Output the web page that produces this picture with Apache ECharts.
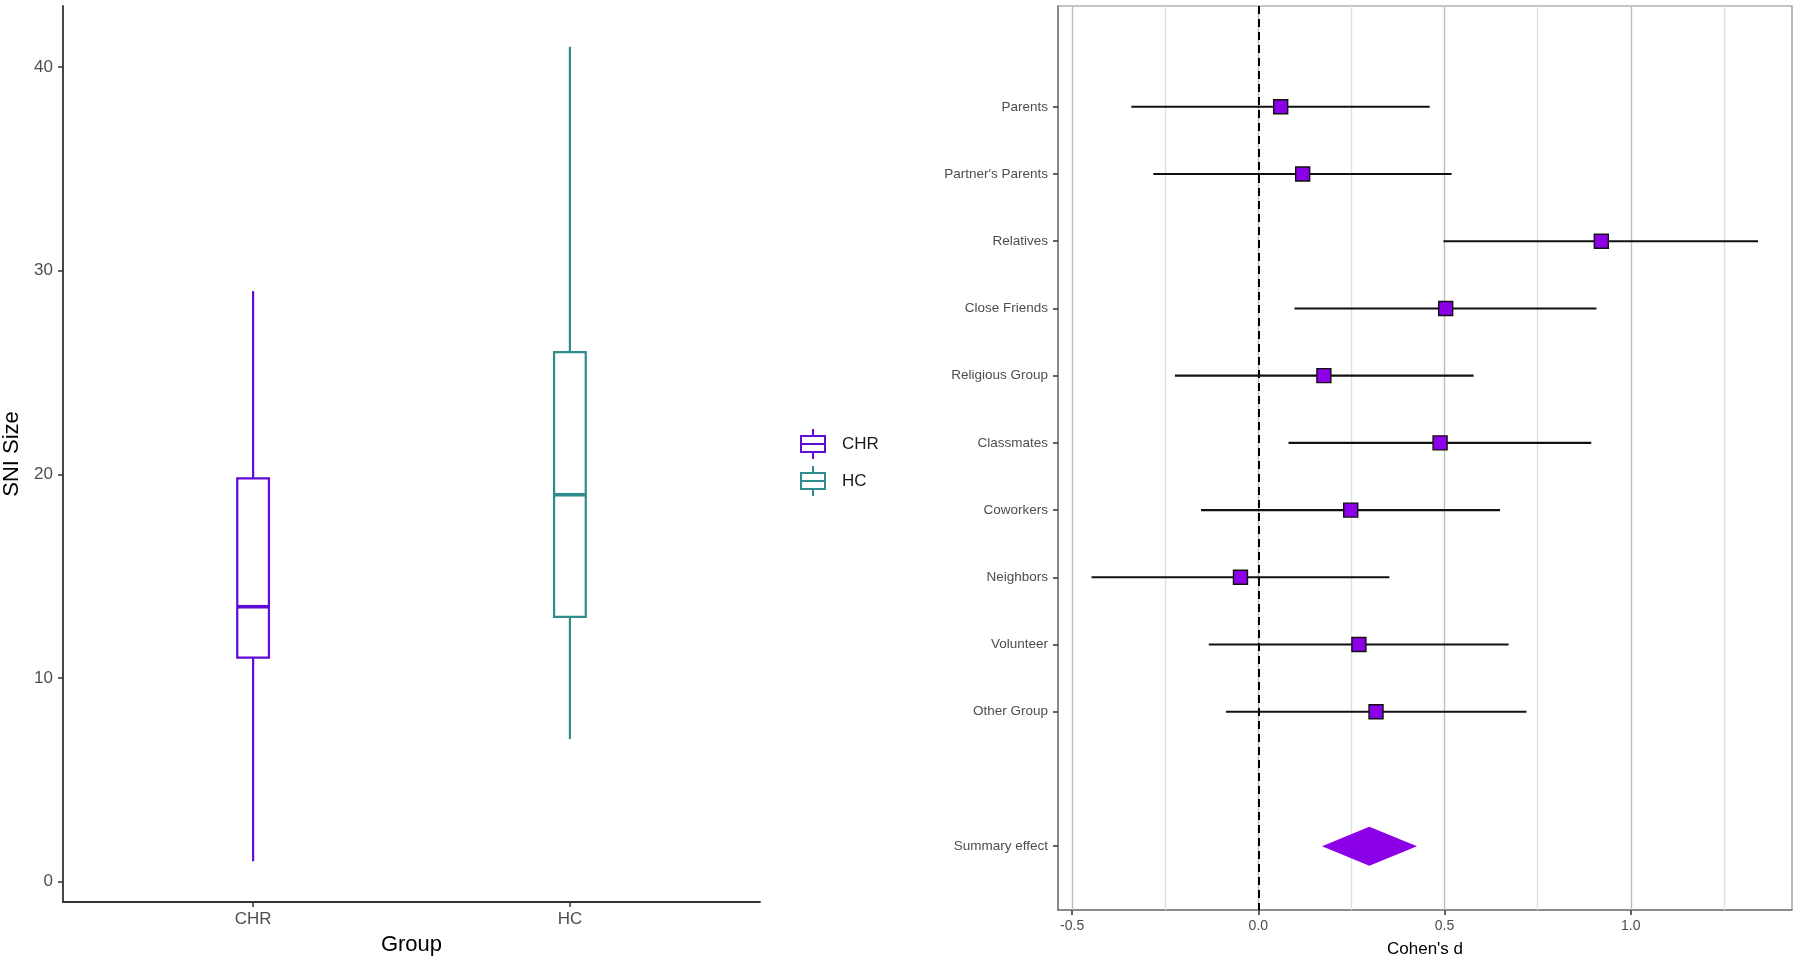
<!DOCTYPE html>
<html>
<head>
<meta charset="utf-8">
<script src="https://cdn.jsdelivr.net/npm/echarts@6/dist/echarts.min.js"></script>
<style>html,body{margin:0;padding:0;background:#fff;}#chart{width:1800px;height:964px;}</style>
</head>
<body>
<div id="chart"></div>
<script>
// ---------- Left panel: box plot data ----------
const groups = ['CHR', 'HC'];
// [min, Q1, median, Q3, max]
const chrBox = [1, 11, 13.5, 19.8, 29];
const hcBox = [7, 13, 19, 26, 41];
const leftYTicks = [0, 10, 20, 30, 40];
const groupColors = ['#5E0BD6', '#2E8C8C'];

// ---------- Right panel: forest plot data ----------
const studies = ['Parents', "Partner's Parents", 'Relatives', 'Close Friends', 'Religious Group',
  'Classmates', 'Coworkers', 'Neighbors', 'Volunteer', 'Other Group'];
const estimate = [0.060, 0.119, 0.921, 0.503, 0.176, 0.488, 0.248, -0.048, 0.270, 0.316];
const lower = [-0.341, -0.282, 0.497, 0.097, -0.224, 0.081, -0.154, -0.448, -0.133, -0.087];
const upper = [0.460, 0.519, 1.342, 0.908, 0.578, 0.894, 0.649, 0.352, 0.672, 0.720];
const summaryLabel = 'Summary effect';
const summaryEffect = [0.171, 0.298, 0.426]; // [lower, estimate, upper]
const xMajorTicks = [-0.5, 0, 0.5, 1.0];
const xMajorLabels = ['-0.5', '0.0', '0.5', '1.0'];
const xMinorGrid = [-0.25, 0.25, 0.75, 1.25];

const FONT = '"Liberation Sans", Arial, Helvetica, sans-serif';
const pointColor = '#8B00E6';

const studyPos = studies.map((_, i) => i + 1);
const summaryPos = studies.length + 2;
const labelAt = {};
studies.forEach((s, i) => { labelAt[studyPos[i]] = s; });
labelAt[summaryPos] = summaryLabel;

const boxWidth = 0.1;
function boxRender(color) {
  return function (params, api) {
    const x = api.value(0);
    const pMin = api.coord([x, api.value(1)]);
    const pQ1 = api.coord([x, api.value(2)]);
    const pMed = api.coord([x, api.value(3)]);
    const pQ3 = api.coord([x, api.value(4)]);
    const pMax = api.coord([x, api.value(5)]);
    const hw = api.size([boxWidth, 0])[0] / 2;
    const cx = pMin[0];
    const ls = { stroke: color, lineWidth: 2.2, fill: null };
    return {
      type: 'group',
      children: [
        { type: 'line', shape: { x1: cx, y1: pMin[1], x2: cx, y2: pQ1[1] }, style: ls },
        { type: 'line', shape: { x1: cx, y1: pQ3[1], x2: cx, y2: pMax[1] }, style: ls },
        { type: 'rect', shape: { x: cx - hw, y: pQ3[1], width: 2 * hw, height: pQ1[1] - pQ3[1] },
          style: { fill: '#fff', stroke: color, lineWidth: 2.2 } },
        { type: 'line', shape: { x1: cx - hw, y1: pMed[1], x2: cx + hw, y2: pMed[1] },
          style: { stroke: color, lineWidth: 3.6 } }
      ]
    };
  };
}

const legendIcon = 'path://M14,0L16,0L16,6L28,6L28,24L16,24L16,30L14,30L14,24L2,24L2,6L14,6Z' +
  'M4,8L4,14L26,14L26,8Z M4,16L4,22L26,22L26,16Z';

const chart = echarts.init(document.getElementById('chart'), null, { renderer: 'canvas' });

const option = {
  backgroundColor: '#ffffff',
  animation: false,
  textStyle: { fontFamily: FONT },
  legend: {
    orient: 'vertical',
    left: 795, top: 424,
    itemWidth: 32, itemHeight: 30,
    itemGap: 7,
    textStyle: { fontFamily: FONT, fontSize: 17, color: '#1a1a1a', padding: [0, 0, 0, 8] },
    data: groups.map((g, i) => ({ name: g, icon: legendIcon, itemStyle: { color: groupColors[i], borderWidth: 0 } }))
  },
  grid: [
    { left: 63, right: 1040, top: 6, bottom: 62, containLabel: false, outerBoundsMode: 'none' },
    { left: 1058, right: 8, top: 6, bottom: 54, containLabel: false, outerBoundsMode: 'none',
      show: true, borderColor: '#8a8a8a', borderWidth: 1.2, backgroundColor: '#fff' }
  ],
  xAxis: [
    {
      gridIndex: 0, type: 'value', min: 0.4, max: 2.6,
      name: 'Group', nameLocation: 'middle', nameGap: 32,
      nameTextStyle: { fontFamily: FONT, fontSize: 22, color: '#000' },
      axisLine: { show: true, onZero: false, lineStyle: { color: '#333', width: 1.8 } },
      axisTick: { show: true, length: 5, lineStyle: { color: '#333', width: 1.5 }, customValues: [1, 2] },
      axisLabel: { show: true, customValues: [1, 2], margin: 9, fontSize: 17, color: '#4d4d4d', fontFamily: FONT,
        formatter: v => groups[Math.round(v) - 1] || '' },
      splitLine: { show: false }
    },
    {
      gridIndex: 1, type: 'value', min: -0.538, max: 1.433,
      name: "Cohen's d", nameLocation: 'middle', nameGap: 31,
      nameTextStyle: { fontFamily: FONT, fontSize: 17, color: '#000' },
      axisLine: { show: true, onZero: false, lineStyle: { color: '#7a7a7a', width: 1.5 } },
      axisTick: { show: true, length: 5, lineStyle: { color: '#333', width: 1.5 }, customValues: xMajorTicks },
      axisLabel: { show: true, customValues: xMajorTicks, margin: 9, fontSize: 14, color: '#4d4d4d', fontFamily: FONT,
        formatter: v => { const i = xMajorTicks.findIndex(t => Math.abs(t - v) < 1e-6); return i >= 0 ? xMajorLabels[i] : ''; } },
      splitLine: { show: false }
    }
  ],
  yAxis: [
    {
      gridIndex: 0, type: 'value', min: -1, max: 43,
      name: 'SNI Size', nameLocation: 'middle', nameGap: 40, nameRotate: 90,
      nameTextStyle: { fontFamily: FONT, fontSize: 22, color: '#000' },
      axisLine: { show: true, onZero: false, lineStyle: { color: '#333', width: 1.8 } },
      axisTick: { show: true, length: 5, lineStyle: { color: '#333', width: 1.5 }, customValues: leftYTicks },
      axisLabel: { show: true, customValues: leftYTicks, margin: 10, fontSize: 17, color: '#4d4d4d', fontFamily: FONT },
      splitLine: { show: false }
    },
    {
      gridIndex: 1, type: 'value', inverse: true, min: -0.5, max: 12.95,
      axisLine: { show: true, onZero: false, lineStyle: { color: '#7a7a7a', width: 1.5 } },
      axisTick: { show: true, length: 5, lineStyle: { color: '#333', width: 1.5 }, customValues: studyPos.concat([summaryPos]) },
      axisLabel: { show: true, customValues: studyPos.concat([summaryPos]), margin: 10, fontSize: 13.5, color: '#4d4d4d', fontFamily: FONT,
        formatter: v => labelAt[Math.round(v)] || '' },
      splitLine: { show: false }
    }
  ],
  series: [
    {
      name: 'CHR', type: 'custom', xAxisIndex: 0, yAxisIndex: 0, z: 3,
      itemStyle: { color: groupColors[0] },
      renderItem: boxRender(groupColors[0]),
      encode: { x: 0, y: [1, 2, 3, 4, 5] },
      data: [[1].concat(chrBox)]
    },
    {
      name: 'HC', type: 'custom', xAxisIndex: 0, yAxisIndex: 0, z: 3,
      itemStyle: { color: groupColors[1] },
      renderItem: boxRender(groupColors[1]),
      encode: { x: 0, y: [1, 2, 3, 4, 5] },
      data: [[2].concat(hcBox)]
    },
    {
      name: 'gridlines', type: 'custom', xAxisIndex: 1, yAxisIndex: 1, z: 1, silent: true,
      renderItem: () => null,
      data: [],
      markLine: {
        silent: true, symbol: 'none', z: 1, label: { show: false },
        data: xMajorTicks.map(v => ({ xAxis: v, lineStyle: { color: '#BDBDBD', width: 1.4, type: 'solid' } }))
          .concat(xMinorGrid.map(v => ({ xAxis: v, lineStyle: { color: '#E0E0E0', width: 1.4, type: 'solid' } })))
          .concat([{ xAxis: 0, lineStyle: { color: '#000', width: 2, type: [8, 5] } }])
      }
    },
    {
      name: 'ci', type: 'custom', xAxisIndex: 1, yAxisIndex: 1, z: 3,
      renderItem: function (params, api) {
        const y = api.value(2);
        const a = api.coord([api.value(0), y]);
        const b = api.coord([api.value(1), y]);
        return { type: 'line', shape: { x1: a[0], y1: a[1], x2: b[0], y2: b[1] },
          style: { stroke: '#111', lineWidth: 2.1 } };
      },
      encode: { x: [0, 1], y: 2 },
      data: studies.map((_, i) => [lower[i], upper[i], studyPos[i]])
    },
    {
      name: 'estimate', type: 'scatter', xAxisIndex: 1, yAxisIndex: 1, z: 4,
      symbol: 'rect', symbolSize: 14,
      itemStyle: { color: pointColor, borderColor: '#111', borderWidth: 1.4, opacity: 1 },
      data: studies.map((_, i) => [estimate[i], studyPos[i]])
    },
    {
      name: 'summary', type: 'custom', xAxisIndex: 1, yAxisIndex: 1, z: 4,
      renderItem: function (params, api) {
        const y = api.value(3);
        const l = api.coord([api.value(0), y]);
        const m = api.coord([api.value(1), y]);
        const r = api.coord([api.value(2), y]);
        const h = 19.5;
        return { type: 'polygon', shape: { points: [[l[0], l[1]], [m[0], m[1] - h], [r[0], r[1]], [m[0], m[1] + h]] },
          style: { fill: pointColor, stroke: null } };
      },
      encode: { x: [0, 1, 2], y: 3 },
      data: [summaryEffect.concat([summaryPos])]
    }
  ]
};
chart.setOption(option);
</script>
</body>
</html>
